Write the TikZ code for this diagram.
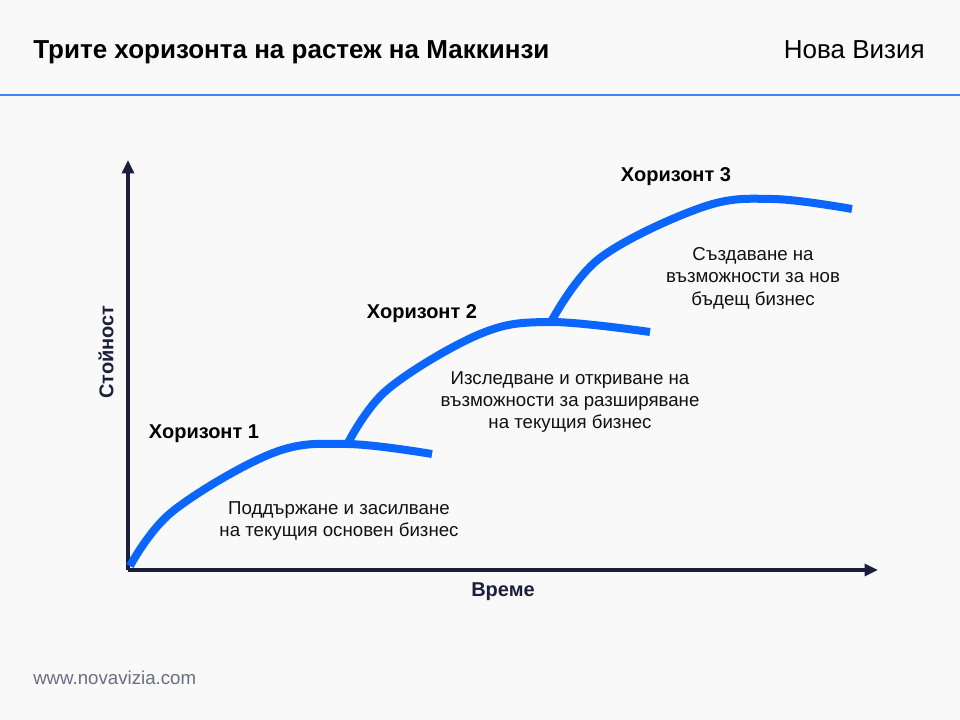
\documentclass[tikz,border=0pt]{standalone}
\usepackage{fontspec}
\setmainfont{Liberation Sans}
\usetikzlibrary{arrows.meta}
\definecolor{bgc}{HTML}{F9F9F9}
\definecolor{axisc}{HTML}{1B1F3A}
\definecolor{curvec}{HTML}{0A66FF}
\definecolor{rulec}{HTML}{3B82F6}
\definecolor{footc}{HTML}{6B6E80}
\definecolor{txtc}{HTML}{111111}
\tikzset{
  axisline/.style={draw=axisc, line width=2.4pt, -{Triangle[length=10pt,width=9pt]}},
  curveline/.style={draw=curvec, line width=6pt},
  hlabel/.style={font=\fontsize{15pt}{18pt}\selectfont\bfseries, text=black},
  desc/.style={font=\fontsize{14pt}{16.8pt}\selectfont, text=txtc, align=center},
  axlabel/.style={font=\fontsize{15pt}{18pt}\selectfont\bfseries, text=axisc},
}
\begin{document}
\begin{tikzpicture}[x=0.75pt,y=-0.75pt]
\fill[bgc] (0,0) rectangle (960,720);
\useasboundingbox (0,0) rectangle (960,720);
% header
\node[anchor=base west, inner sep=0, font=\fontsize{19.5pt}{22pt}\selectfont\bfseries] (title) at (33,59) {Трите хоризонта на растеж на Маккинзи};
\node[anchor=base east, inner sep=0, font=\fontsize{19.5pt}{22pt}\selectfont] (brand) at (925,59) {Нова Визия};
\draw[rulec, line width=1.5pt] (0,95) -- (960,95);
% axes
\coordinate (O) at (128,570);
\coordinate (Ytop) at (128,160);
\coordinate (Xend) at (878,570);
\draw[axisline] (O) -- (Ytop);
\draw[axisline] (O) -- (Xend);
\node[axlabel, rotate=90] (ylab) at (106,352) {Стойност};
\node[axlabel] (xlab) at (503,592) {Време};
% curves
\draw[curveline] plot[smooth, tension=0.6] coordinates {(130,566) (173,511) (273,453) (347,444) (432,454)};
\draw[curveline] plot[smooth, tension=0.6] coordinates {(348,443) (388,389) (480,334) (550,322) (650,332)};
\draw[curveline] plot[smooth, tension=0.6] coordinates {(551,322) (600,258) (703,207) (773,199) (852,209)};
% labels
\node[hlabel] (h1) at (204,434) {Хоризонт 1};
\node[hlabel] (h2) at (422,314) {Хоризонт 2};
\node[hlabel] (h3) at (676,177) {Хоризонт 3};
\node[desc] (d1) at (339,521) {Поддържане и засилване\\на текущия основен бизнес};
\node[desc] (d2) at (570,402) {Изследване и откриване на\\възможности за разширяване\\на текущия бизнес};
\node[desc] (d3) at (753,278) {Създаване на\\възможности за нов\\бъдещ бизнес};
% footer
\node[anchor=base west, inner sep=0, font=\fontsize{14pt}{16pt}\selectfont, text=footc] (foot) at (33,684) {www.novavizia.com};
\end{tikzpicture}
\end{document}
